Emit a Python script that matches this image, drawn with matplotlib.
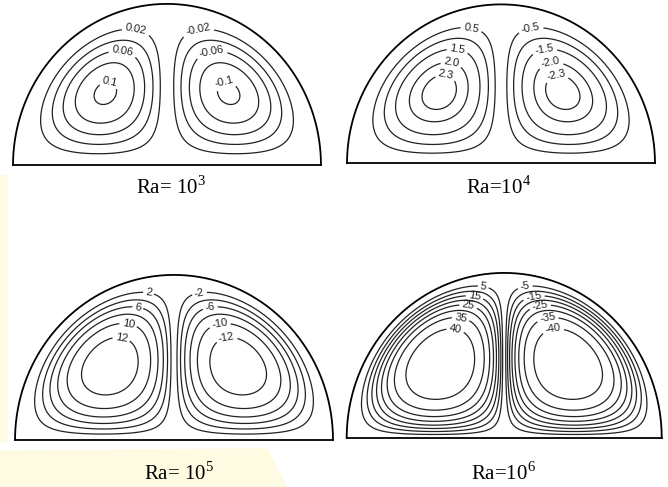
import numpy as np
import matplotlib
matplotlib.use("Agg")
import matplotlib.pyplot as plt
from matplotlib.patches import Polygon

plt.rcParams['contour.negative_linestyle'] = 'solid'
plt.rcParams['mathtext.fontset'] = 'custom'
plt.rcParams['mathtext.rm'] = 'Liberation Serif'

# Streamline data for the four Rayleigh numbers
ra_exp = [3, 4, 5, 6]
ra_text = ['Ra= 10', 'Ra=10', 'Ra= 10', 'Ra=10']
psi_max = [0.1035, 2.45, 13.3, 44.0]
sharpness = [0.3, 0.8, 1.8, 2.9]   # how strongly the cells fill the enclosure

levels_1 = [0.02, 0.04, 0.06, 0.08, 0.1]
levels_2 = [0.5, 1.0, 1.5, 2.0, 2.3]
levels_3 = [2, 4, 6, 8, 10, 12]
levels_4 = [5, 10, 15, 20, 25, 30, 35, 40]
all_levels = [levels_1, levels_2, levels_3, levels_4]

labeled_1 = [0.02, 0.06, 0.1]
labeled_2 = [0.5, 1.5, 2.0, 2.3]
labeled_3 = [2, 6, 10, 12]
labeled_4 = [5, 15, 25, 35, 40]
all_labeled = [labeled_1, labeled_2, labeled_3, labeled_4]
label_fmt = ['{:g}', '{:.1f}', '{:g}', '{:g}']

# panel boxes in figure fractions (left, bottom, width, height)
boxes = [(0.0195, 0.661, 0.461, 0.331),
         (0.5195, 0.665, 0.461, 0.326),
         (0.0225, 0.0965, 0.476, 0.339),
         (0.519, 0.1006, 0.4716, 0.339)]
title_pos = [(0.256, 0.602), (0.747, 0.602), (0.268, 0.0144), (0.753, 0.0144)]

fig = plt.figure(figsize=(6.68, 4.87), dpi=100)

# faint watermark in background
wm = '#fefbe2'
fig.patches.append(Polygon([(0, 0.09), (0.012, 0.09), (0.012, 0.64), (0, 0.64)],
                           closed=True, transform=fig.transFigure, fc=wm, ec='none', zorder=-5))
fig.patches.append(Polygon([(0.0, 0.075), (0.40, 0.08), (0.43, 0.0), (0.0, 0.0)],
                           closed=True, transform=fig.transFigure, fc=wm, ec='none', zorder=-5))

x = np.linspace(-1, 1, 801)
y = np.linspace(0, 1, 401)
X, Y = np.meshgrid(x, y)
R2 = X**2 + Y**2
base = np.abs(X) * Y**1.25 * np.clip(1 - R2, 0, None)**2
base = base / base.max()

theta = np.linspace(0, np.pi, 400)

for i in range(4):
    ax = fig.add_axes(boxes[i])
    k = sharpness[i]
    shape = (1 - np.exp(-k * base)) / (1 - np.exp(-k))
    psi = -np.sign(X) * psi_max[i] * shape
    lab = all_labeled[i]
    lab_full = sorted([-v for v in lab] + lab)
    rest = [v for v in all_levels[i] if v not in lab]
    rest_full = sorted([-v for v in rest] + rest)
    if rest_full:
        ax.contour(X, Y, psi, levels=rest_full, colors='#222222', linewidths=0.9)
    cs = ax.contour(X, Y, psi, levels=lab_full, colors='#222222', linewidths=0.9)

    # label each chosen level near the upper inner shoulder of the cell
    fmt = {}
    spots = []
    for idx, lvl in enumerate(lab_full):
        sgn = 1 if lvl > 0 else -1
        pts = np.vstack(cs.allsegs[idx])
        score = pts[:, 1] + 0.15 * pts[:, 0] * sgn
        p = pts[np.argmax(score)]
        spots.append((p[0], p[1]))
        fmt[lvl] = ('' if sgn > 0 else '-') + label_fmt[i].format(abs(lvl))
    ax.clabel(cs, manual=spots, inline=True, inline_spacing=2, fmt=fmt,
              fontsize=8, colors='#222222')
    for t in cs.labelTexts:
        t.set_fontfamily('Liberation Sans')

    ax.plot(np.cos(theta), np.sin(theta), color='black', lw=1.3, clip_on=False)
    ax.plot([-1, 1], [0, 0], color='black', lw=1.3, clip_on=False)
    ax.set_xlim(-1, 1)
    ax.set_ylim(0, 1)
    ax.axis('off')

    fig.text(title_pos[i][0], title_pos[i][1],
             ra_text[i] + r'$^{\mathrm{' + str(ra_exp[i]) + '}}$',
             ha='center', va='baseline', fontsize=15, family='Liberation Serif')

fig.savefig('out.png', dpi=100)
